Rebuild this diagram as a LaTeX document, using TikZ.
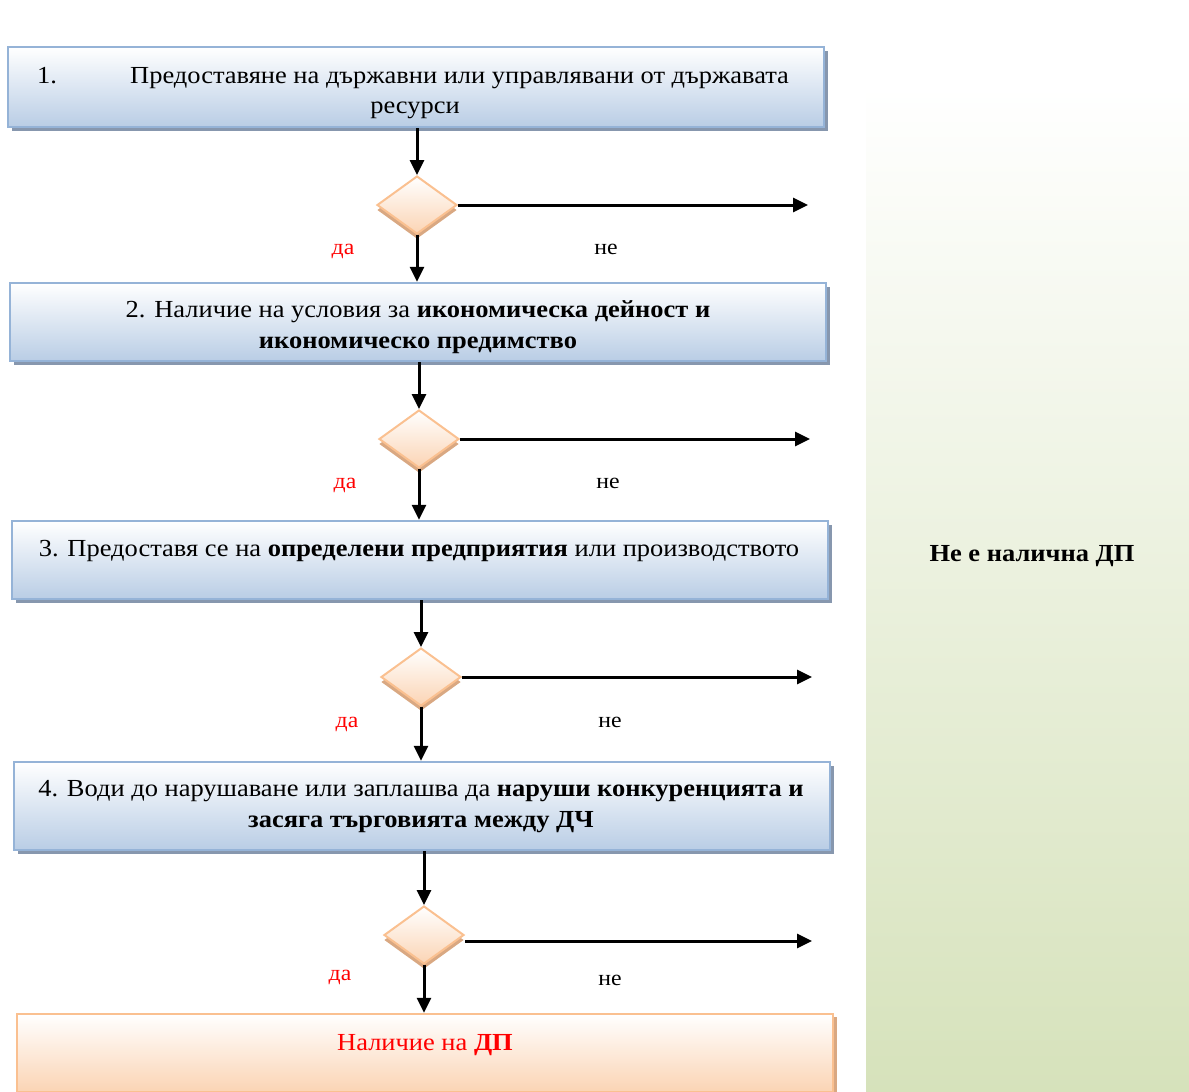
\documentclass[tikz,border=0pt]{standalone}
\usepackage{fontspec}
\setmainfont[FakeStretch=1.08]{Liberation Serif}
\usetikzlibrary{shapes.geometric,arrows.meta,shadows}
\definecolor{boxborder}{HTML}{95B3D7}
\definecolor{boxbot}{HTML}{B9CDE5}
\definecolor{boxshadow}{HTML}{8797AE}
\definecolor{peach}{HTML}{FBD4B4}
\definecolor{peachborder}{HTML}{FAC090}
\definecolor{tanshadow}{HTML}{D9A882}
\definecolor{greenbot}{HTML}{D6E2BB}
\definecolor{redtxt}{HTML}{FF0000}
\tikzset{
  bluebox/.style={draw=boxborder, line width=2.5pt, top color=white, bottom color=boxbot,
    minimum width=816pt, inner sep=0pt,
    drop shadow={shadow xshift=4pt, shadow yshift=-4pt, fill=boxshadow, opacity=1}},
  peachbox/.style={draw=peachborder, line width=2.5pt, top color=white, bottom color=peach,
    minimum width=816pt, inner sep=0pt,
    drop shadow={shadow xshift=4pt, shadow yshift=-3pt, fill=tanshadow, opacity=1}},
  decision/.style={diamond, draw=peachborder, line width=2pt, top color=white, bottom color=peach,
    minimum width=80pt, minimum height=58pt, inner sep=0pt,
    drop shadow={shadow xshift=0pt, shadow yshift=-5pt, fill=tanshadow, opacity=1}},
  txt/.style={font=\fontsize{24.5}{30}\selectfont, inner sep=0pt},
  lbl/.style={font=\fontsize{22}{26}\selectfont, inner sep=0pt},
  yes/.style={lbl, text=redtxt},
  conn/.style={line width=3pt, -{Triangle[length=15pt,width=14pt]}},
}
\begin{document}
\begin{tikzpicture}[x=1pt,y=-1pt]
\useasboundingbox (0,0) rectangle (1189,1092);
% green side panel
\fill[top color=white, bottom color=greenbot] (866,85) rectangle (1189,1092);
\node[font=\fontsize{24.5}{30}\selectfont\bfseries, inner sep=0pt] (none) at (1032,556) {Не е налична ДП};

% decisions
\node[decision] (d1) at (417,205) {};
\node[decision] (d2) at (419,439) {};
\node[decision] (d3) at (421,677) {};
\node[decision] (d4) at (424,935) {};

\coordinate (e1) at (808,205);
\coordinate (e2) at (810,439);
\coordinate (e3) at (812,677);
\coordinate (e4) at (812,941);

% boxes
\node[bluebox, minimum height=80pt] (b1) at (416,87) {};
\node[bluebox, minimum height=78pt] (b2) at (418,322) {};
\node[bluebox, minimum height=78pt] (b3) at (420,560) {};
\node[bluebox, minimum height=88pt] (b4) at (422,806) {};
\node[peachbox, minimum height=78pt] (b5) at (425,1053) {};

% connectors
\draw[conn] (d1.north |- b1.south) -- (d1.north);
\draw[conn] (d1.south) -- (d1.south |- b2.north);
\draw[conn] (d2.north |- b2.south) -- (d2.north);
\draw[conn] (d2.south) -- (d2.south |- b3.north);
\draw[conn] (d3.north |- b3.south) -- (d3.north);
\draw[conn] (d3.south) -- (d3.south |- b4.north);
\draw[conn] (d4.north |- b4.south) -- (d4.north);
\draw[conn] (d4.south) -- (d4.south |- b5.north);
\draw[conn] (d1.east) -- (e1);
\draw[conn] (d2.east) -- (e2);
\draw[conn] (d3.east) -- (e3);
\draw[conn] (d4.east |- e4) -- (e4);

% box texts
\node[txt, anchor=mid west] (t1a) at (37,81) {1.};
\node[txt, anchor=mid west] (t1b) at (130,81) {Предоставяне на държавни или управлявани от държавата};
\node[txt, anchor=mid] (t1c) at (415,111) {ресурси};
\node[txt, anchor=mid] (t2a) at (418,315) {2. Наличие на условия за \textbf{икономическа дейност и}};
\node[txt, anchor=mid] (t2b) at (418,346) {\textbf{икономическо предимство}};
\node[txt, anchor=mid] (t3a) at (419,554) {3. Предоставя се на \textbf{определени предприятия} или производството};
\node[txt, anchor=mid] (t4a) at (421,794) {4. Води до нарушаване или заплашва да \textbf{наруши конкуренцията и}};
\node[txt, anchor=mid] (t4b) at (421,825) {\textbf{засяга търговията между ДЧ}};
\node[txt, anchor=mid, text=redtxt] (t5) at (425,1048) {Наличие на \textbf{ДП}};

% yes / no labels
\node[yes, anchor=mid] (y1) at (343,252) {да};
\node[lbl, anchor=mid] (n1) at (606,252) {не};
\node[yes, anchor=mid] (y2) at (345,486) {да};
\node[lbl, anchor=mid] (n2) at (608,486) {не};
\node[yes, anchor=mid] (y3) at (347,725) {да};
\node[lbl, anchor=mid] (n3) at (610,725) {не};
\node[yes, anchor=mid] (y4) at (340,978) {да};
\node[lbl, anchor=mid] (n4) at (610,983) {не};
\end{tikzpicture}
\end{document}
